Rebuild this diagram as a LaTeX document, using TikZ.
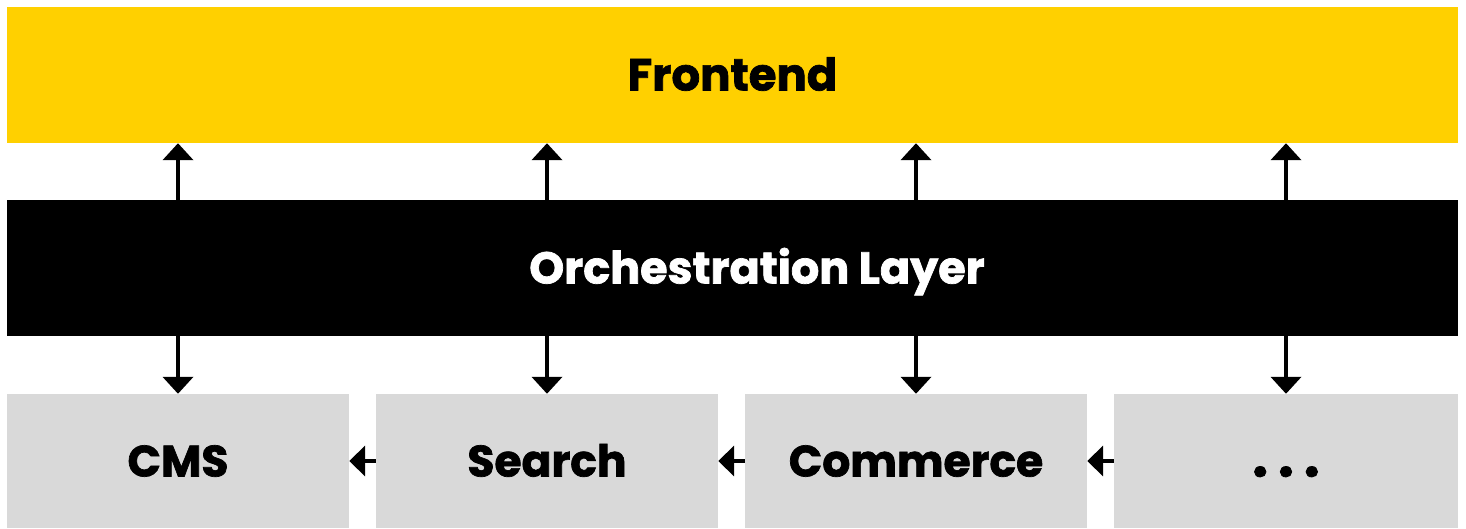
\documentclass[tikz,border=0pt]{standalone}
\usepackage{fontspec}
\setmainfont{Poppins}[BoldFeatures={FakeBold=1.6}]
\usetikzlibrary{arrows.meta}
\definecolor{fyellow}{HTML}{FFD000}
\definecolor{sgray}{HTML}{D9D9D9}
\tikzset{
  lbl/.style={inner sep=0pt, text height=31pt, text depth=0pt, font=\fontsize{44}{44}\selectfont\bfseries},
  layer/.style={lbl, rectangle, minimum width=1451pt, minimum height=136pt},
  svc/.style={lbl, rectangle, fill=sgray, minimum height=134pt},
  varr/.style={line width=4pt, -{Triangle[width=30pt,length=17pt]}},
  harr/.style={line width=4pt, -{Triangle[width=30pt,length=16pt]}}
}
\begin{document}
\begin{tikzpicture}[x=1pt,y=-1pt]
\useasboundingbox[fill=white] (0,0) rectangle (1466,529);
\node[layer, fill=fyellow] (front) at (732.5,75) {\fontsize{45}{45}\selectfont Frontend};
\node[layer, fill=black, text=white] (orch) at (732.5,268) {\hspace*{49pt}\fontsize{44.5}{44.5}\selectfont Orchestration Layer};
\node[svc, minimum width=342pt] (cms) at (178,461) {CMS};
\node[svc, minimum width=342pt] (search) at (547,461) {Search};
\node[svc, minimum width=342pt] (commerce) at (916,461) {Commerce};
\node[svc, minimum width=344pt] (more) at (1286,461) {\fontsize{56}{56}\selectfont .\hspace{10pt}.\hspace{10pt}.};
\foreach \n in {cms,search,commerce,more}{
  \draw[varr] (\n.north |- orch.north) -- (\n.north |- front.south);
  \draw[varr] (\n.north |- orch.south) -- (\n.north);
}
\draw[harr] (search.west) -- (cms.east);
\draw[harr] (commerce.west) -- (search.east);
\draw[harr] (more.west) -- (commerce.east);
\end{tikzpicture}
\end{document}
